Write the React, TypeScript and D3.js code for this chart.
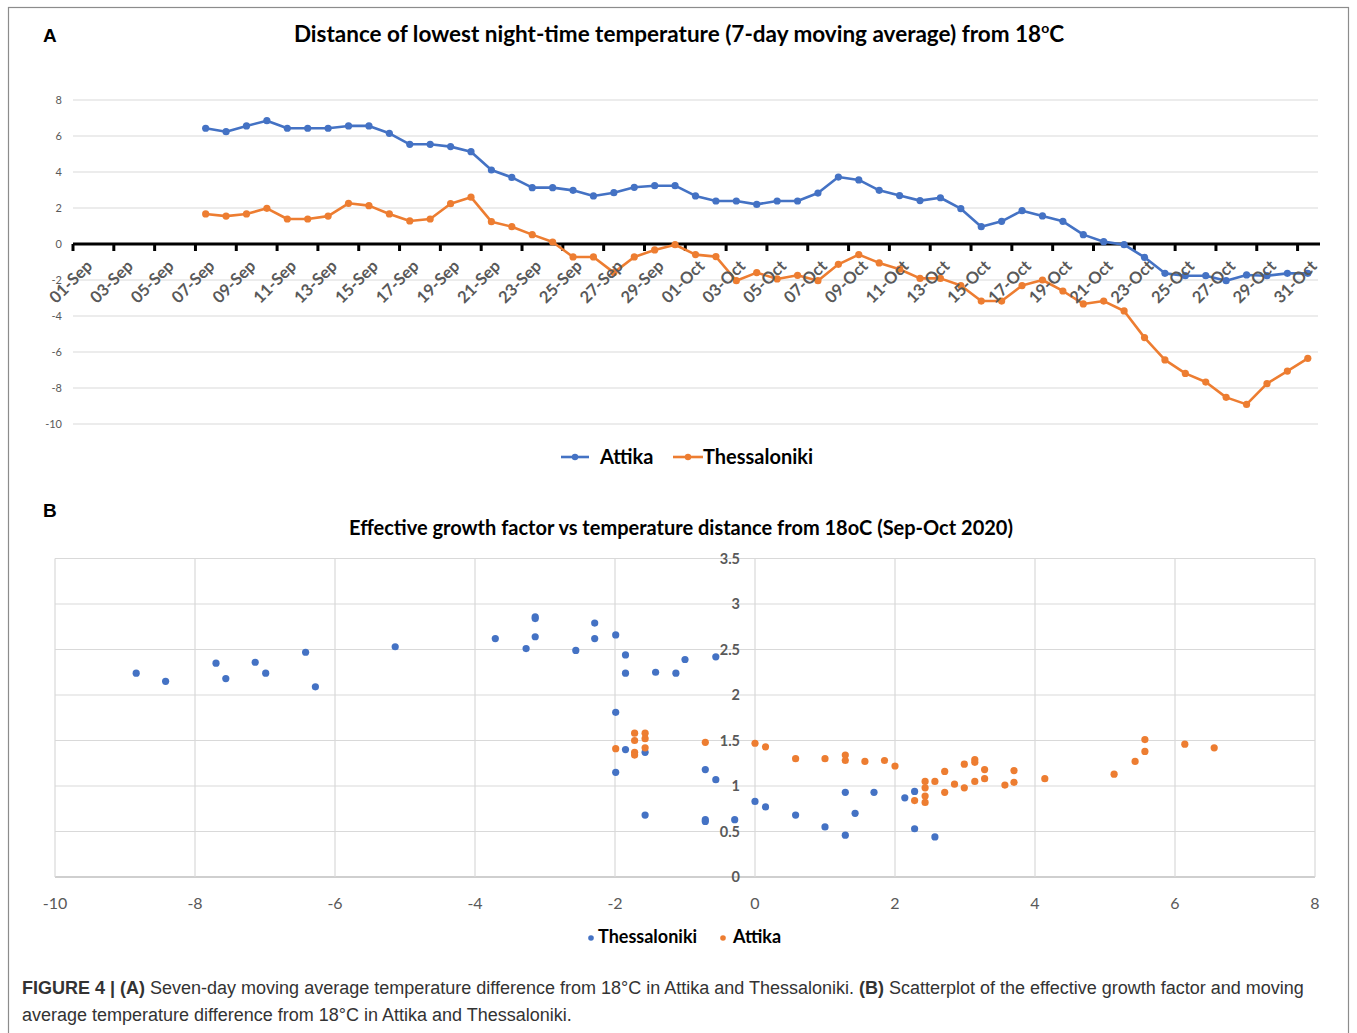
import React from 'react';
import * as d3 from 'd3';

// categories: every day of Sep-Oct 2020
const days = d3.timeDay.range(new Date(2020, 8, 1), new Date(2020, 10, 1));
const dayLabels = days.map((d) => d3.timeFormat('%d-%b')(d));
const firstDay = '07-Sep';

// 7-day moving average distance from 18C (07-Sep .. 31-Oct)
const attika = [
  6.43, 6.24, 6.56, 6.85, 6.43, 6.43, 6.43, 6.56, 6.56, 6.15, 5.54, 5.54, 5.41, 5.13,
  4.11, 3.70, 3.13, 3.13, 2.98, 2.67, 2.85, 3.15, 3.24, 3.24,
  2.67, 2.39, 2.39, 2.20, 2.39, 2.39, 2.83, 3.72, 3.56, 2.98,
  2.69, 2.41, 2.57, 1.96, 0.96, 1.26, 1.85, 1.56, 1.26, 0.52,
  0.13, -0.04, -0.74, -1.63, -1.76, -1.76, -2.04, -1.72, -1.76, -1.63, -1.63,
];
const thessaloniki = [
  1.67, 1.55, 1.67, 1.98, 1.39, 1.39, 1.55, 2.26, 2.13, 1.67, 1.28, 1.39, 2.24, 2.60,
  1.24, 0.96, 0.52, 0.11, -0.72, -0.72, -1.59, -0.72, -0.33, -0.04,
  -0.59, -0.70, -2.04, -1.59, -1.94, -1.74, -2.04, -1.13, -0.59, -1.05,
  -1.40, -1.91, -1.91, -2.31, -3.17, -3.17, -2.31, -2.00, -2.61, -3.33,
  -3.17, -3.72, -5.20, -6.44, -7.19, -7.67, -8.52, -8.91, -7.76, -7.06, -6.35,
];
const lineYTicks = [8, 6, 4, 2, 0, -2, -4, -6, -8, -10];

// scatter: [temperature distance, effective growth factor]
const scatterThess: [number, number][] = [
  [-8.84, 2.24], [-8.42, 2.15], [-7.70, 2.35], [-7.56, 2.18], [-7.14, 2.36], [-6.99, 2.24],
  [-6.42, 2.47], [-6.28, 2.09], [-5.14, 2.53], [-3.71, 2.62], [-3.27, 2.51], [-3.14, 2.86],
  [-3.14, 2.84], [-3.14, 2.64], [-2.56, 2.49], [-2.29, 2.79], [-2.29, 2.62], [-1.99, 2.66],
  [-1.85, 2.44], [-1.85, 2.24], [-1.42, 2.25], [-1.13, 2.24], [-1.0, 2.39], [-0.56, 2.42],
  [-1.99, 1.81], [-1.85, 1.40], [-1.57, 1.37], [-1.99, 1.15], [-1.57, 0.68], [-0.71, 1.18],
  [-0.56, 1.07], [-0.71, 0.63], [-0.71, 0.61], [-0.29, 0.63], [0.0, 0.83], [0.15, 0.77],
  [0.58, 0.68], [1.0, 0.55], [1.29, 0.93], [1.29, 0.46], [1.43, 0.70], [1.70, 0.93],
  [2.14, 0.87], [2.28, 0.94], [2.28, 0.53], [2.57, 0.44],
];
const scatterAttika: [number, number][] = [
  [-1.99, 1.41], [-1.72, 1.58], [-1.72, 1.50], [-1.72, 1.37], [-1.72, 1.34], [-1.57, 1.58],
  [-1.57, 1.52], [-1.57, 1.42], [-0.71, 1.48], [0.0, 1.47], [0.15, 1.43], [0.58, 1.30],
  [1.0, 1.30], [1.29, 1.34], [1.29, 1.28], [1.57, 1.27], [1.85, 1.28], [2.0, 1.22],
  [2.28, 0.84], [2.43, 1.05], [2.43, 0.98], [2.43, 0.89], [2.43, 0.82], [2.57, 1.05],
  [2.71, 1.16], [2.71, 0.93], [2.85, 1.02], [2.99, 1.24], [2.99, 0.98], [3.14, 1.29],
  [3.14, 1.26], [3.14, 1.05], [3.28, 1.18], [3.28, 1.08], [3.57, 1.01], [3.70, 1.17],
  [3.70, 1.04], [4.14, 1.08], [5.13, 1.13], [5.43, 1.27], [5.57, 1.51], [5.57, 1.38],
  [6.14, 1.46], [6.56, 1.42],
];
const scatterXTicks = [-10, -8, -6, -4, -2, 0, 2, 4, 6, 8];
const scatterYTicks = [0, 0.5, 1, 1.5, 2, 2.5, 3, 3.5];

const BLUE = '#4472C4';
const ORANGE = '#ED7D31';
const GRID = '#d9d9d9';
const LABEL = '#595959';
const FONT = 'Lato, "Open Sans", sans-serif';

const App: React.FC = () => {
  // panel A scales
  const x = d3.scaleBand<string>().domain(dayLabels).range([73, 1318]);
  const bw = x.bandwidth();
  const cx = (d: string) => (x(d) || 0) + bw / 2;
  const y = d3.scaleLinear().domain([-10, 8]).range([424, 100]);
  const start = dayLabels.indexOf(firstDay);
  const dataDays = dayLabels.slice(start);

  const line = d3.line<number>()
    .x((_, i) => cx(dataDays[i]))
    .y((v) => y(v));

  // panel B scales
  const sx = d3.scaleLinear().domain([-10, 8]).range([55, 1315]);
  const sy = d3.scaleLinear().domain([0, 3.5]).range([877, 558.5]);

  const series = [
    { name: 'Attika', values: attika, color: BLUE },
    { name: 'Thessaloniki', values: thessaloniki, color: ORANGE },
  ];

  return (
    <svg width={1357} height={1033} style={{ position: 'absolute', left: 0, top: 0, background: '#fff' }}>
      <rect x={8.5} y={7.5} width={1340} height={1040} fill="#fff" stroke="#8c8c8c" strokeWidth={1.2} />

      {/* ---------- Panel A ---------- */}
      <text x={43} y={42} fontFamily="Liberation Sans, Arial, sans-serif" fontWeight="bold" fontSize={19}>A</text>
      <text x={679} y={42} textAnchor="middle" fontFamily={FONT} fontWeight="bold" fontSize={22.5} fill="#000">
        Distance of lowest night-time temperature (7-day moving average) from 18
        <tspan fontSize={14} dy={-9}>o</tspan>
        <tspan dy={9}>C</tspan>
      </text>

      {lineYTicks.map((t) => (
        <g key={t}>
          {t !== 0 && <line x1={73} x2={1318} y1={y(t)} y2={y(t)} stroke={GRID} strokeWidth={1} />}
          <text x={62} y={y(t)} dy="0.35em" textAnchor="end" fontFamily={FONT} fontSize={11} fill={LABEL}>{t}</text>
        </g>
      ))}

      {/* zero axis with tick marks */}
      <line x1={73} x2={1320} y1={y(0)} y2={y(0)} stroke="#000" strokeWidth={3} />
      {dayLabels.map((d, i) => i % 2 === 0 ? (
        <line key={d} x1={x(d)} x2={x(d)} y1={y(0)} y2={y(0) + 7} stroke="#000" strokeWidth={3} />
      ) : null)}

      {series.map((s) => (
        <g key={s.name}>
          <path d={line(s.values) || ''} fill="none" stroke={s.color} strokeWidth={2.6} strokeLinejoin="round" />
          {s.values.map((v, i) => (
            <circle key={i} cx={cx(dataDays[i])} cy={y(v)} r={3.6} fill={s.color} />
          ))}
        </g>
      ))}

      {dayLabels.map((d, i) => i % 2 === 0 ? (
        <text key={d} transform={`translate(${cx(d) + 6},${y(0) + 19}) rotate(-45)`} textAnchor="end" dy="0.35em"
          fontFamily={FONT} fontWeight="bold" fontSize={16.5} fill={LABEL}>{d}</text>
      ) : null)}

      {/* legend A */}
      <g fontFamily={FONT} fontWeight="bold" fontSize={20} fill="#000">
        <line x1={561} x2={589} y1={457} y2={457} stroke={BLUE} strokeWidth={2.6} />
        <circle cx={575} cy={457} r={3.2} fill={BLUE} />
        <text x={600} y={457} dy="0.35em">Attika</text>
        <line x1={673} x2={703} y1={457} y2={457} stroke={ORANGE} strokeWidth={2.6} />
        <circle cx={688} cy={457} r={3.2} fill={ORANGE} />
        <text x={703} y={457} dy="0.35em">Thessaloniki</text>
      </g>

      {/* ---------- Panel B ---------- */}
      <text x={43} y={517} fontFamily="Liberation Sans, Arial, sans-serif" fontWeight="bold" fontSize={19}>B</text>
      <text x={681} y={528} dy="0.35em" textAnchor="middle" fontFamily={FONT} fontWeight="bold" fontSize={20} fill="#000">
        Effective growth factor vs temperature distance from 18oC (Sep-Oct 2020)
      </text>

      {scatterYTicks.map((t) => (
        <line key={t} x1={sx(-10)} x2={sx(8)} y1={sy(t)} y2={sy(t)} stroke={t === 0 ? '#bfbfbf' : GRID} strokeWidth={t === 0 ? 1.4 : 1.2} />
      ))}
      {scatterXTicks.map((t) => (
        <line key={t} x1={sx(t)} x2={sx(t)} y1={sy(0)} y2={sy(3.5)} stroke={GRID} strokeWidth={1.2} />
      ))}
      {scatterYTicks.map((t) => (
        <text key={t} x={sx(0) - 15} y={sy(t)} dy="0.35em" textAnchor="end" fontFamily={FONT} fontWeight="bold" fontSize={14.5} fill={LABEL}>{t}</text>
      ))}
      {scatterXTicks.map((t) => (
        <text key={t} x={sx(t)} y={sy(0) + 26} dy="0.35em" textAnchor="middle" fontFamily={FONT} fontSize={16} fill={LABEL}>{t}</text>
      ))}

      {scatterThess.map(([a, b], i) => (
        <circle key={`t${i}`} cx={sx(a)} cy={sy(b)} r={3.6} fill={BLUE} />
      ))}
      {scatterAttika.map(([a, b], i) => (
        <circle key={`a${i}`} cx={sx(a)} cy={sy(b)} r={3.6} fill={ORANGE} />
      ))}

      {/* legend B */}
      <g fontFamily={FONT} fontWeight="bold" fontSize={18} fill="#000">
        <circle cx={591} cy={938} r={2.8} fill={BLUE} />
        <text x={598} y={937} dy="0.35em">Thessaloniki</text>
        <circle cx={723} cy={938} r={2.8} fill={ORANGE} />
        <text x={733} y={937} dy="0.35em">Attika</text>
      </g>

      {/* caption */}
      <g fontFamily="Liberation Sans, Arial, sans-serif" fontSize={18} fill="#333">
        <text x={22} y={994}>
          <tspan fontWeight="bold">FIGURE 4 | (A)</tspan> Seven-day moving average temperature difference from 18°C in Attika and Thessaloniki.{' '}
          <tspan fontWeight="bold">(B)</tspan> Scatterplot of the effective growth factor and moving
        </text>
        <text x={22} y={1021}>average temperature difference from 18°C in Attika and Thessaloniki.</text>
      </g>
    </svg>
  );
};

export default App;
